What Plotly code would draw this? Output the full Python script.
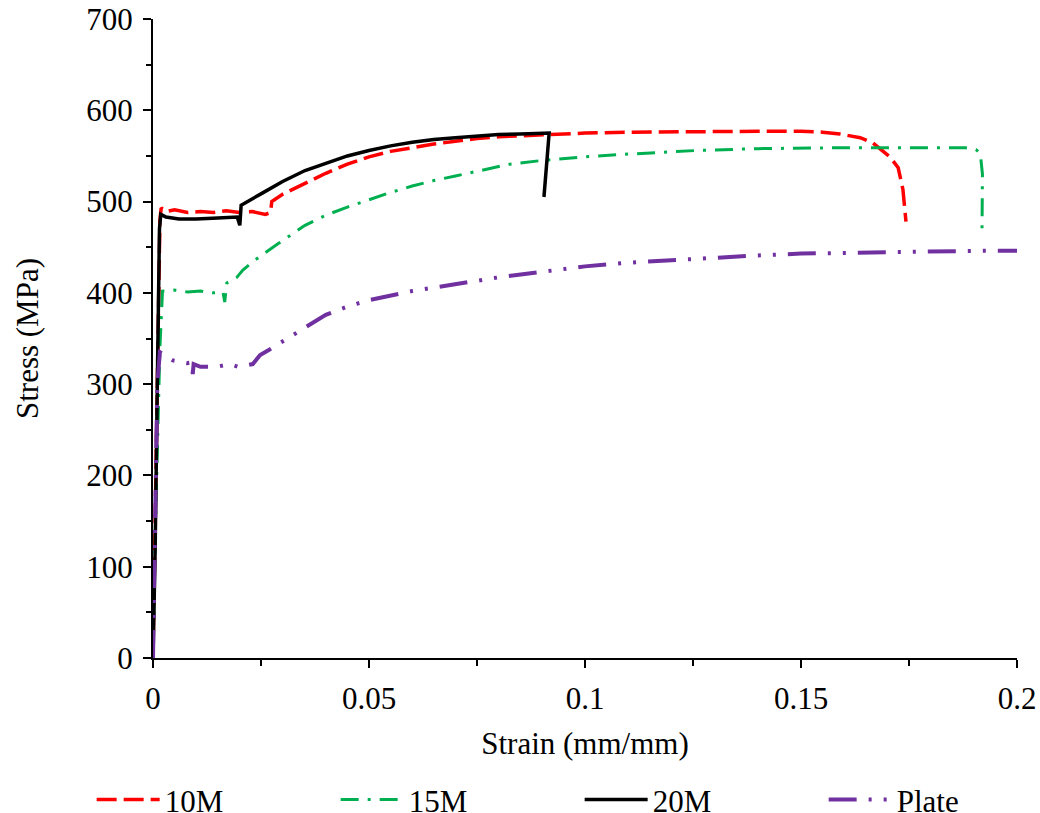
import plotly.graph_objects as go

# ---- data ----
strain_10m = [0, 0.0008, 0.0016, 0.0019, 0.003, 0.005, 0.008, 0.011, 0.014, 0.017, 0.02, 0.023, 0.026,
              0.0272, 0.0275, 0.03, 0.0352, 0.04, 0.045, 0.05, 0.055, 0.06, 0.065, 0.07, 0.075, 0.08,
              0.09, 0.1, 0.11, 0.126, 0.14, 0.15, 0.155, 0.159, 0.1637, 0.1667, 0.1706, 0.1725,
              0.1736, 0.1743]
stress_10m = [0, 250, 480, 493, 489, 491, 488, 489, 488, 490, 488, 489, 486,
              488, 500, 508, 520, 531, 541, 549, 555, 559, 563, 566, 569, 571,
              573, 575, 576, 577, 577, 577, 576, 574, 570, 564, 549, 537,
              513, 478]

strain_15m = [0, 0.0006, 0.0016, 0.002, 0.0022, 0.005, 0.008, 0.011, 0.014, 0.0162, 0.0166, 0.0171,
              0.0194, 0.0208, 0.0236, 0.029, 0.0352, 0.04, 0.045, 0.05, 0.055, 0.06, 0.065, 0.07,
              0.075, 0.0826, 0.09, 0.1, 0.11, 0.126, 0.14, 0.16, 0.18, 0.188, 0.1905, 0.1915,
              0.192, 0.1919]
stress_15m = [0, 150, 340, 385, 402, 403, 401, 402, 400, 401, 390, 411,
              417, 425, 436, 454, 474, 485, 494, 502, 510, 517, 523, 528,
              533, 541, 545, 549, 552, 556, 558, 559, 559, 559, 557, 553,
              530, 469]

strain_20m = [0, 0.0005, 0.001, 0.0015, 0.0018, 0.003, 0.006, 0.01, 0.015, 0.0195, 0.0201, 0.0204,
              0.0252, 0.03, 0.0352, 0.04, 0.045, 0.05, 0.055, 0.06, 0.065, 0.07, 0.075, 0.08,
              0.085, 0.0917, 0.0905]
stress_20m = [0, 120, 300, 470, 486, 483, 481, 481, 482, 483, 474, 496,
              509, 522, 534, 542, 550, 556, 561, 565, 568, 570, 572, 573.5,
              574, 575, 505]

strain_plate = [0, 0.0005, 0.001, 0.0016, 0.0046, 0.0079, 0.0091, 0.0092, 0.0094, 0.011, 0.0148,
                0.0178, 0.0197, 0.0231, 0.0248, 0.027, 0.0322, 0.035, 0.04, 0.045, 0.05, 0.06,
                0.07, 0.08, 0.09, 0.1, 0.11, 0.12, 0.13, 0.14, 0.15, 0.16, 0.17, 0.18, 0.19, 0.2,
                0.205]
stress_plate = [0, 150, 300, 335, 326, 323, 324, 311, 322, 319, 319,
                322, 319, 322, 332, 338, 353, 362, 376, 385, 392, 402,
                410, 417, 423, 429, 433, 436, 439, 441, 443, 444, 445, 446, 446, 446,
                446]

series_names = ["10M", "15M", "20M", "Plate"]

x_ticks = [0, 0.05, 0.1, 0.15, 0.2]
x_tick_labels = ["0", "0.05", "0.1", "0.15", "0.2"]
y_ticks = [0, 100, 200, 300, 400, 500, 600, 700]

FONT = "Liberation Serif, Times New Roman, serif"
FS = 31

fig = go.Figure()
fig.add_trace(go.Scatter(x=strain_10m, y=stress_10m, mode="lines", name=series_names[0],
                         line=dict(color="#ff0000", width=3.5, dash="20px,7px")))
fig.add_trace(go.Scatter(x=strain_15m, y=stress_15m, mode="lines", name=series_names[1],
                         line=dict(color="#00b050", width=3, dash="18px,9px,3px,9px")))
fig.add_trace(go.Scatter(x=strain_20m, y=stress_20m, mode="lines", name=series_names[2],
                         line=dict(color="#000000", width=3.5)))
fig.add_trace(go.Scatter(x=strain_plate, y=stress_plate, mode="lines", name=series_names[3],
                         line=dict(color="#7030a0", width=4, dash="28px,12px,3px,12px,3px,12px")))

fig.update_layout(
    width=1040, height=813,
    margin=dict(l=153, r=23, t=19, b=155, autoexpand=False),
    paper_bgcolor="white", plot_bgcolor="white",
    font=dict(family=FONT, size=FS, color="black"),
    showlegend=True,
    legend=dict(orientation="h", x=-0.071, xanchor="left", y=-0.222, yanchor="middle",
                font=dict(family=FONT, size=FS, color="black"),
                itemwidth=63, entrywidth=166, entrywidthmode="pixels",
                bgcolor="rgba(0,0,0,0)"),
)
fig.update_xaxes(
    range=[0, 0.2], tickvals=x_ticks, ticktext=x_tick_labels,
    showgrid=False, zeroline=False,
    showline=True, linecolor="black", linewidth=2,
    ticks="outside", ticklen=8, tickwidth=2, tickcolor="black",
    minor=dict(dtick=0.025, tick0=0, ticks="outside", ticklen=6, tickwidth=2, tickcolor="black", showgrid=False),
    ticklabelstandoff=4, ticklabeloverflow="allow",
    title=dict(text="Strain (mm/mm)", font=dict(family=FONT, size=FS), standoff=17),
    tickfont=dict(family=FONT, size=FS),
)
fig.update_yaxes(
    range=[0, 700], tickvals=y_ticks,
    showgrid=False, zeroline=False,
    showline=True, linecolor="black", linewidth=2,
    ticks="outside", ticklen=8, tickwidth=2, tickcolor="black",
    minor=dict(dtick=50, tick0=0, ticks="outside", ticklen=5, tickwidth=2, tickcolor="black", showgrid=False),
    ticklabelstandoff=4, ticklabeloverflow="allow",
    title=dict(text="Stress (MPa)", font=dict(family=FONT, size=FS), standoff=38),
    tickfont=dict(family=FONT, size=FS),
)

fig.write_html(
    "out.html",
    config={"displayModeBar": False},
    post_script="document.body.style.margin='0';document.body.style.overflow='hidden';",
)
